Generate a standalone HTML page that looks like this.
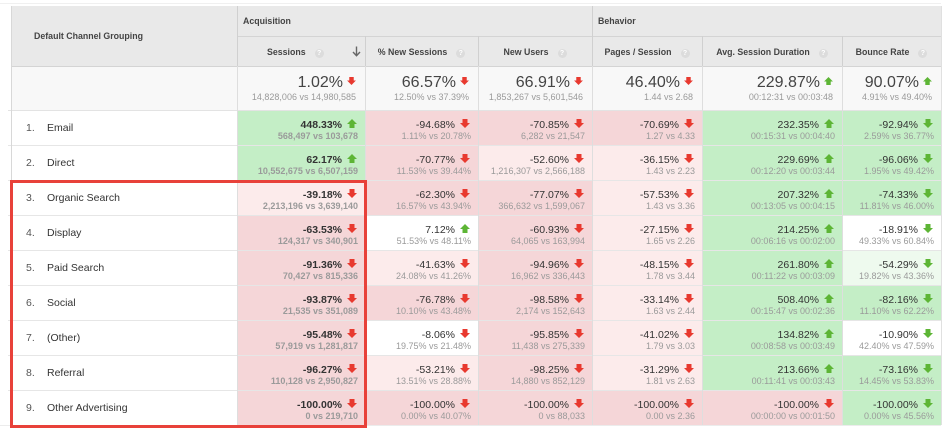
<!DOCTYPE html>
<html><head><meta charset="utf-8">
<style>
*{margin:0;padding:0;box-sizing:border-box}
html,body{width:952px;height:431px;background:#fff;overflow:hidden;font-family:"Liberation Sans",Arial,sans-serif}
.a{position:absolute}
.hd{background:#e9e9e9}
.hl{font-size:8.8px;font-weight:bold;color:#444;white-space:nowrap}
.q{display:inline-block;width:9px;height:9px;border-radius:50%;background:#dcdcdc;color:#fff;font-size:7px;line-height:9px;text-align:center;font-weight:bold;margin-left:9px;vertical-align:0px}
.cell{position:absolute;text-align:right;padding-right:7px;white-space:nowrap}
.m{font-size:10.5px;line-height:12px;color:#333;padding-top:8px}
.s{font-size:9px;line-height:10px;color:#9a9a9a}
.b .m{font-weight:bold}
.b .s{font-weight:bold}
.m svg{display:inline-block;width:10px;height:9px;margin-left:5px;margin-right:1px;vertical-align:0px}
.sum{position:absolute;text-align:right;padding-right:9px;white-space:nowrap}
.sm{font-size:16px;line-height:18px;color:#444;padding-top:8px}
.ss{font-size:9px;line-height:11px;color:#9a9a9a}
.sm svg{display:inline-block;width:9px;height:8px;margin-left:4px;vertical-align:2px}
.G{background:#c4eec6}
.P{background:#f5d6d8}
.L{background:#fcebeb}
.W{background:#fff}
.LG{background:#eefaee}
.lbl{position:absolute;left:11px;width:226px;height:35px;line-height:36px;font-size:10.5px;color:#333;padding-left:15px;white-space:nowrap}
.lbl span{display:inline-block;width:21px;color:#555}
.hline{position:absolute;height:1px;background:#e6e6e6}
.vline{position:absolute;width:1px;background:#dedede}
</style></head><body>

<!-- top light line -->
<div class="a" style="left:0;top:3px;width:941px;height:1px;background:#f0f0f0"></div>

<!-- header background -->
<div class="a hd" style="left:11px;top:6px;width:930px;height:60px"></div>
<div class="a" style="left:237px;top:36px;width:704px;height:1px;background:#d4d4d4"></div>
<div class="a" style="left:11px;top:66px;width:930px;height:1px;background:#d4d4d4"></div>
<!-- header verticals -->
<div class="a" style="left:237px;top:6px;width:1px;height:60px;background:#d0d0d0"></div>
<div class="a" style="left:592px;top:6px;width:1px;height:60px;background:#d0d0d0"></div>
<div class="a" style="left:365px;top:36px;width:1px;height:30px;background:#d0d0d0"></div>
<div class="a" style="left:478px;top:36px;width:1px;height:30px;background:#d0d0d0"></div>
<div class="a" style="left:702px;top:36px;width:1px;height:30px;background:#d0d0d0"></div>
<div class="a" style="left:842px;top:36px;width:1px;height:30px;background:#d0d0d0"></div>

<div class="a hl" style="left:34px;top:30px;line-height:12px">Default Channel Grouping</div>
<div class="a hl" style="left:243px;top:15px;line-height:12px">Acquisition</div>
<div class="a hl" style="left:598px;top:15px;line-height:12px">Behavior</div>

<div class="a hl" style="left:237px;top:46px;width:128px;line-height:12px;padding-left:30px">Sessions<span class="q">?</span></div>
<svg class="a" style="left:352px;top:46px" width="9" height="11" viewBox="0 0 9 11"><path d="M4.5 0.5V9.5M1 6L4.5 9.7L8 6" stroke="#666" stroke-width="1.4" fill="none"/></svg>
<div class="a hl" style="left:365px;top:46px;width:113px;line-height:12px;text-align:center">% New Sessions<span class="q">?</span></div>
<div class="a hl" style="left:478px;top:46px;width:114px;line-height:12px;text-align:center">New Users<span class="q">?</span></div>
<div class="a hl" style="left:592px;top:46px;width:110px;line-height:12px;text-align:center">Pages / Session<span class="q">?</span></div>
<div class="a hl" style="left:702px;top:46px;width:140px;line-height:12px;text-align:center">Avg. Session Duration<span class="q">?</span></div>
<div class="a hl" style="left:842px;top:46px;width:99px;line-height:12px;text-align:center">Bounce Rate<span class="q">?</span></div>

<!-- summary row -->
<div class="a" style="left:11px;top:67px;width:930px;height:43px;background:#f8f8f8"></div>
<div class="sum" style="left:237px;top:66px;width:128px"><div class="sm">1.02%<svg viewBox="0 0 10 9"><path d="M2.5 0H7.5V4H10L5 9L0 4H2.5Z" fill="#e8392f"/></svg></div><div class="ss">14,828,006 vs 14,980,585</div></div>
<div class="sum" style="left:365px;top:66px;width:113px"><div class="sm">66.57%<svg viewBox="0 0 10 9"><path d="M2.5 0H7.5V4H10L5 9L0 4H2.5Z" fill="#e8392f"/></svg></div><div class="ss">12.50% vs 37.39%</div></div>
<div class="sum" style="left:478px;top:66px;width:114px"><div class="sm">66.91%<svg viewBox="0 0 10 9"><path d="M2.5 0H7.5V4H10L5 9L0 4H2.5Z" fill="#e8392f"/></svg></div><div class="ss">1,853,267 vs 5,601,546</div></div>
<div class="sum" style="left:592px;top:66px;width:110px"><div class="sm">46.40%<svg viewBox="0 0 10 9"><path d="M2.5 0H7.5V4H10L5 9L0 4H2.5Z" fill="#e8392f"/></svg></div><div class="ss">1.44 vs 2.68</div></div>
<div class="sum" style="left:702px;top:66px;width:140px"><div class="sm">229.87%<svg viewBox="0 0 10 9"><path d="M2.5 9H7.5V5H10L5 0L0 5H2.5Z" fill="#5db535"/></svg></div><div class="ss">00:12:31 vs 00:03:48</div></div>
<div class="sum" style="left:842px;top:66px;width:99px"><div class="sm">90.07%<svg viewBox="0 0 10 9"><path d="M2.5 9H7.5V5H10L5 0L0 5H2.5Z" fill="#5db535"/></svg></div><div class="ss">4.91% vs 49.40%</div></div>
<div class="a" style="left:8px;top:110px;width:933px;height:1px;background:#e3e3e3"></div>

<!-- Row 1 -->
<div class="lbl" style="top:110px"><span>1.</span>Email</div>
<div class="cell b G" style="left:237px;top:111px;width:128px;height:34px"><div class="m">448.33%<svg viewBox="0 0 10 9"><path d="M2.5 9H7.5V5H10L5 0L0 5H2.5Z" fill="#5db535"/></svg></div><div class="s">568,497 vs 103,678</div></div>
<div class="cell P" style="left:365px;top:111px;width:113px;height:34px"><div class="m">-94.68%<svg viewBox="0 0 10 9"><path d="M2.5 0H7.5V4H10L5 9L0 4H2.5Z" fill="#e8392f"/></svg></div><div class="s">1.11% vs 20.78%</div></div>
<div class="cell P" style="left:478px;top:111px;width:114px;height:34px"><div class="m">-70.85%<svg viewBox="0 0 10 9"><path d="M2.5 0H7.5V4H10L5 9L0 4H2.5Z" fill="#e8392f"/></svg></div><div class="s">6,282 vs 21,547</div></div>
<div class="cell P" style="left:592px;top:111px;width:110px;height:34px"><div class="m">-70.69%<svg viewBox="0 0 10 9"><path d="M2.5 0H7.5V4H10L5 9L0 4H2.5Z" fill="#e8392f"/></svg></div><div class="s">1.27 vs 4.33</div></div>
<div class="cell G" style="left:702px;top:111px;width:140px;height:34px"><div class="m">232.35%<svg viewBox="0 0 10 9"><path d="M2.5 9H7.5V5H10L5 0L0 5H2.5Z" fill="#5db535"/></svg></div><div class="s">00:15:31 vs 00:04:40</div></div>
<div class="cell G" style="left:842px;top:111px;width:99px;height:34px"><div class="m">-92.94%<svg viewBox="0 0 10 9"><path d="M2.5 0H7.5V4H10L5 9L0 4H2.5Z" fill="#5db535"/></svg></div><div class="s">2.59% vs 36.77%</div></div>

<!-- Row 2 -->
<div class="lbl" style="top:145px"><span>2.</span>Direct</div>
<div class="cell b G" style="left:237px;top:146px;width:128px;height:34px"><div class="m">62.17%<svg viewBox="0 0 10 9"><path d="M2.5 9H7.5V5H10L5 0L0 5H2.5Z" fill="#5db535"/></svg></div><div class="s">10,552,675 vs 6,507,159</div></div>
<div class="cell P" style="left:365px;top:146px;width:113px;height:34px"><div class="m">-70.77%<svg viewBox="0 0 10 9"><path d="M2.5 0H7.5V4H10L5 9L0 4H2.5Z" fill="#e8392f"/></svg></div><div class="s">11.53% vs 39.44%</div></div>
<div class="cell L" style="left:478px;top:146px;width:114px;height:34px"><div class="m">-52.60%<svg viewBox="0 0 10 9"><path d="M2.5 0H7.5V4H10L5 9L0 4H2.5Z" fill="#e8392f"/></svg></div><div class="s">1,216,307 vs 2,566,188</div></div>
<div class="cell L" style="left:592px;top:146px;width:110px;height:34px"><div class="m">-36.15%<svg viewBox="0 0 10 9"><path d="M2.5 0H7.5V4H10L5 9L0 4H2.5Z" fill="#e8392f"/></svg></div><div class="s">1.43 vs 2.23</div></div>
<div class="cell G" style="left:702px;top:146px;width:140px;height:34px"><div class="m">229.69%<svg viewBox="0 0 10 9"><path d="M2.5 9H7.5V5H10L5 0L0 5H2.5Z" fill="#5db535"/></svg></div><div class="s">00:12:20 vs 00:03:44</div></div>
<div class="cell G" style="left:842px;top:146px;width:99px;height:34px"><div class="m">-96.06%<svg viewBox="0 0 10 9"><path d="M2.5 0H7.5V4H10L5 9L0 4H2.5Z" fill="#5db535"/></svg></div><div class="s">1.95% vs 49.42%</div></div>

<!-- Row 3 -->
<div class="lbl" style="top:180px"><span>3.</span>Organic Search</div>
<div class="cell b L" style="left:237px;top:181px;width:128px;height:34px"><div class="m">-39.18%<svg viewBox="0 0 10 9"><path d="M2.5 0H7.5V4H10L5 9L0 4H2.5Z" fill="#e8392f"/></svg></div><div class="s">2,213,196 vs 3,639,140</div></div>
<div class="cell P" style="left:365px;top:181px;width:113px;height:34px"><div class="m">-62.30%<svg viewBox="0 0 10 9"><path d="M2.5 0H7.5V4H10L5 9L0 4H2.5Z" fill="#e8392f"/></svg></div><div class="s">16.57% vs 43.94%</div></div>
<div class="cell P" style="left:478px;top:181px;width:114px;height:34px"><div class="m">-77.07%<svg viewBox="0 0 10 9"><path d="M2.5 0H7.5V4H10L5 9L0 4H2.5Z" fill="#e8392f"/></svg></div><div class="s">366,632 vs 1,599,067</div></div>
<div class="cell L" style="left:592px;top:181px;width:110px;height:34px"><div class="m">-57.53%<svg viewBox="0 0 10 9"><path d="M2.5 0H7.5V4H10L5 9L0 4H2.5Z" fill="#e8392f"/></svg></div><div class="s">1.43 vs 3.36</div></div>
<div class="cell G" style="left:702px;top:181px;width:140px;height:34px"><div class="m">207.32%<svg viewBox="0 0 10 9"><path d="M2.5 9H7.5V5H10L5 0L0 5H2.5Z" fill="#5db535"/></svg></div><div class="s">00:13:05 vs 00:04:15</div></div>
<div class="cell G" style="left:842px;top:181px;width:99px;height:34px"><div class="m">-74.33%<svg viewBox="0 0 10 9"><path d="M2.5 0H7.5V4H10L5 9L0 4H2.5Z" fill="#5db535"/></svg></div><div class="s">11.81% vs 46.00%</div></div>

<!-- Row 4 -->
<div class="lbl" style="top:215px"><span>4.</span>Display</div>
<div class="cell b P" style="left:237px;top:216px;width:128px;height:34px"><div class="m">-63.53%<svg viewBox="0 0 10 9"><path d="M2.5 0H7.5V4H10L5 9L0 4H2.5Z" fill="#e8392f"/></svg></div><div class="s">124,317 vs 340,901</div></div>
<div class="cell W" style="left:365px;top:216px;width:113px;height:34px"><div class="m">7.12%<svg viewBox="0 0 10 9"><path d="M2.5 9H7.5V5H10L5 0L0 5H2.5Z" fill="#5db535"/></svg></div><div class="s">51.53% vs 48.11%</div></div>
<div class="cell P" style="left:478px;top:216px;width:114px;height:34px"><div class="m">-60.93%<svg viewBox="0 0 10 9"><path d="M2.5 0H7.5V4H10L5 9L0 4H2.5Z" fill="#e8392f"/></svg></div><div class="s">64,065 vs 163,994</div></div>
<div class="cell L" style="left:592px;top:216px;width:110px;height:34px"><div class="m">-27.15%<svg viewBox="0 0 10 9"><path d="M2.5 0H7.5V4H10L5 9L0 4H2.5Z" fill="#e8392f"/></svg></div><div class="s">1.65 vs 2.26</div></div>
<div class="cell G" style="left:702px;top:216px;width:140px;height:34px"><div class="m">214.25%<svg viewBox="0 0 10 9"><path d="M2.5 9H7.5V5H10L5 0L0 5H2.5Z" fill="#5db535"/></svg></div><div class="s">00:06:16 vs 00:02:00</div></div>
<div class="cell W" style="left:842px;top:216px;width:99px;height:34px"><div class="m">-18.91%<svg viewBox="0 0 10 9"><path d="M2.5 0H7.5V4H10L5 9L0 4H2.5Z" fill="#5db535"/></svg></div><div class="s">49.33% vs 60.84%</div></div>

<!-- Row 5 -->
<div class="lbl" style="top:250px"><span>5.</span>Paid Search</div>
<div class="cell b P" style="left:237px;top:251px;width:128px;height:34px"><div class="m">-91.36%<svg viewBox="0 0 10 9"><path d="M2.5 0H7.5V4H10L5 9L0 4H2.5Z" fill="#e8392f"/></svg></div><div class="s">70,427 vs 815,336</div></div>
<div class="cell L" style="left:365px;top:251px;width:113px;height:34px"><div class="m">-41.63%<svg viewBox="0 0 10 9"><path d="M2.5 0H7.5V4H10L5 9L0 4H2.5Z" fill="#e8392f"/></svg></div><div class="s">24.08% vs 41.26%</div></div>
<div class="cell P" style="left:478px;top:251px;width:114px;height:34px"><div class="m">-94.96%<svg viewBox="0 0 10 9"><path d="M2.5 0H7.5V4H10L5 9L0 4H2.5Z" fill="#e8392f"/></svg></div><div class="s">16,962 vs 336,443</div></div>
<div class="cell L" style="left:592px;top:251px;width:110px;height:34px"><div class="m">-48.15%<svg viewBox="0 0 10 9"><path d="M2.5 0H7.5V4H10L5 9L0 4H2.5Z" fill="#e8392f"/></svg></div><div class="s">1.78 vs 3.44</div></div>
<div class="cell G" style="left:702px;top:251px;width:140px;height:34px"><div class="m">261.80%<svg viewBox="0 0 10 9"><path d="M2.5 9H7.5V5H10L5 0L0 5H2.5Z" fill="#5db535"/></svg></div><div class="s">00:11:22 vs 00:03:09</div></div>
<div class="cell LG" style="left:842px;top:251px;width:99px;height:34px"><div class="m">-54.29%<svg viewBox="0 0 10 9"><path d="M2.5 0H7.5V4H10L5 9L0 4H2.5Z" fill="#5db535"/></svg></div><div class="s">19.82% vs 43.36%</div></div>

<!-- Row 6 -->
<div class="lbl" style="top:285px"><span>6.</span>Social</div>
<div class="cell b P" style="left:237px;top:286px;width:128px;height:34px"><div class="m">-93.87%<svg viewBox="0 0 10 9"><path d="M2.5 0H7.5V4H10L5 9L0 4H2.5Z" fill="#e8392f"/></svg></div><div class="s">21,535 vs 351,089</div></div>
<div class="cell P" style="left:365px;top:286px;width:113px;height:34px"><div class="m">-76.78%<svg viewBox="0 0 10 9"><path d="M2.5 0H7.5V4H10L5 9L0 4H2.5Z" fill="#e8392f"/></svg></div><div class="s">10.10% vs 43.48%</div></div>
<div class="cell P" style="left:478px;top:286px;width:114px;height:34px"><div class="m">-98.58%<svg viewBox="0 0 10 9"><path d="M2.5 0H7.5V4H10L5 9L0 4H2.5Z" fill="#e8392f"/></svg></div><div class="s">2,174 vs 152,643</div></div>
<div class="cell L" style="left:592px;top:286px;width:110px;height:34px"><div class="m">-33.14%<svg viewBox="0 0 10 9"><path d="M2.5 0H7.5V4H10L5 9L0 4H2.5Z" fill="#e8392f"/></svg></div><div class="s">1.63 vs 2.44</div></div>
<div class="cell G" style="left:702px;top:286px;width:140px;height:34px"><div class="m">508.40%<svg viewBox="0 0 10 9"><path d="M2.5 9H7.5V5H10L5 0L0 5H2.5Z" fill="#5db535"/></svg></div><div class="s">00:15:47 vs 00:02:36</div></div>
<div class="cell G" style="left:842px;top:286px;width:99px;height:34px"><div class="m">-82.16%<svg viewBox="0 0 10 9"><path d="M2.5 0H7.5V4H10L5 9L0 4H2.5Z" fill="#5db535"/></svg></div><div class="s">11.10% vs 62.22%</div></div>

<!-- Row 7 -->
<div class="lbl" style="top:320px"><span>7.</span>(Other)</div>
<div class="cell b P" style="left:237px;top:321px;width:128px;height:34px"><div class="m">-95.48%<svg viewBox="0 0 10 9"><path d="M2.5 0H7.5V4H10L5 9L0 4H2.5Z" fill="#e8392f"/></svg></div><div class="s">57,919 vs 1,281,817</div></div>
<div class="cell W" style="left:365px;top:321px;width:113px;height:34px"><div class="m">-8.06%<svg viewBox="0 0 10 9"><path d="M2.5 0H7.5V4H10L5 9L0 4H2.5Z" fill="#e8392f"/></svg></div><div class="s">19.75% vs 21.48%</div></div>
<div class="cell P" style="left:478px;top:321px;width:114px;height:34px"><div class="m">-95.85%<svg viewBox="0 0 10 9"><path d="M2.5 0H7.5V4H10L5 9L0 4H2.5Z" fill="#e8392f"/></svg></div><div class="s">11,438 vs 275,339</div></div>
<div class="cell L" style="left:592px;top:321px;width:110px;height:34px"><div class="m">-41.02%<svg viewBox="0 0 10 9"><path d="M2.5 0H7.5V4H10L5 9L0 4H2.5Z" fill="#e8392f"/></svg></div><div class="s">1.79 vs 3.03</div></div>
<div class="cell G" style="left:702px;top:321px;width:140px;height:34px"><div class="m">134.82%<svg viewBox="0 0 10 9"><path d="M2.5 9H7.5V5H10L5 0L0 5H2.5Z" fill="#5db535"/></svg></div><div class="s">00:08:58 vs 00:03:49</div></div>
<div class="cell W" style="left:842px;top:321px;width:99px;height:34px"><div class="m">-10.90%<svg viewBox="0 0 10 9"><path d="M2.5 0H7.5V4H10L5 9L0 4H2.5Z" fill="#5db535"/></svg></div><div class="s">42.40% vs 47.59%</div></div>

<!-- Row 8 -->
<div class="lbl" style="top:355px"><span>8.</span>Referral</div>
<div class="cell b P" style="left:237px;top:356px;width:128px;height:34px"><div class="m">-96.27%<svg viewBox="0 0 10 9"><path d="M2.5 0H7.5V4H10L5 9L0 4H2.5Z" fill="#e8392f"/></svg></div><div class="s">110,128 vs 2,950,827</div></div>
<div class="cell L" style="left:365px;top:356px;width:113px;height:34px"><div class="m">-53.21%<svg viewBox="0 0 10 9"><path d="M2.5 0H7.5V4H10L5 9L0 4H2.5Z" fill="#e8392f"/></svg></div><div class="s">13.51% vs 28.88%</div></div>
<div class="cell P" style="left:478px;top:356px;width:114px;height:34px"><div class="m">-98.25%<svg viewBox="0 0 10 9"><path d="M2.5 0H7.5V4H10L5 9L0 4H2.5Z" fill="#e8392f"/></svg></div><div class="s">14,880 vs 852,129</div></div>
<div class="cell L" style="left:592px;top:356px;width:110px;height:34px"><div class="m">-31.29%<svg viewBox="0 0 10 9"><path d="M2.5 0H7.5V4H10L5 9L0 4H2.5Z" fill="#e8392f"/></svg></div><div class="s">1.81 vs 2.63</div></div>
<div class="cell G" style="left:702px;top:356px;width:140px;height:34px"><div class="m">213.66%<svg viewBox="0 0 10 9"><path d="M2.5 9H7.5V5H10L5 0L0 5H2.5Z" fill="#5db535"/></svg></div><div class="s">00:11:41 vs 00:03:43</div></div>
<div class="cell G" style="left:842px;top:356px;width:99px;height:34px"><div class="m">-73.16%<svg viewBox="0 0 10 9"><path d="M2.5 0H7.5V4H10L5 9L0 4H2.5Z" fill="#5db535"/></svg></div><div class="s">14.45% vs 53.83%</div></div>

<!-- Row 9 -->
<div class="lbl" style="top:390px"><span>9.</span>Other Advertising</div>
<div class="cell b P" style="left:237px;top:391px;width:128px;height:34px"><div class="m">-100.00%<svg viewBox="0 0 10 9"><path d="M2.5 0H7.5V4H10L5 9L0 4H2.5Z" fill="#e8392f"/></svg></div><div class="s">0 vs 219,710</div></div>
<div class="cell P" style="left:365px;top:391px;width:113px;height:34px"><div class="m">-100.00%<svg viewBox="0 0 10 9"><path d="M2.5 0H7.5V4H10L5 9L0 4H2.5Z" fill="#e8392f"/></svg></div><div class="s">0.00% vs 40.07%</div></div>
<div class="cell P" style="left:478px;top:391px;width:114px;height:34px"><div class="m">-100.00%<svg viewBox="0 0 10 9"><path d="M2.5 0H7.5V4H10L5 9L0 4H2.5Z" fill="#e8392f"/></svg></div><div class="s">0 vs 88,033</div></div>
<div class="cell P" style="left:592px;top:391px;width:110px;height:34px"><div class="m">-100.00%<svg viewBox="0 0 10 9"><path d="M2.5 0H7.5V4H10L5 9L0 4H2.5Z" fill="#e8392f"/></svg></div><div class="s">0.00 vs 2.36</div></div>
<div class="cell P" style="left:702px;top:391px;width:140px;height:34px"><div class="m">-100.00%<svg viewBox="0 0 10 9"><path d="M2.5 0H7.5V4H10L5 9L0 4H2.5Z" fill="#e8392f"/></svg></div><div class="s">00:00:00 vs 00:01:50</div></div>
<div class="cell G" style="left:842px;top:391px;width:99px;height:34px"><div class="m">-100.00%<svg viewBox="0 0 10 9"><path d="M2.5 0H7.5V4H10L5 9L0 4H2.5Z" fill="#5db535"/></svg></div><div class="s">0.00% vs 45.56%</div></div>

<!-- row separators -->
<div class="hline" style="left:8px;top:145px;width:933px"></div>
<div class="hline" style="left:8px;top:180px;width:933px"></div>
<div class="hline" style="left:8px;top:215px;width:933px"></div>
<div class="hline" style="left:8px;top:250px;width:933px"></div>
<div class="hline" style="left:8px;top:285px;width:933px"></div>
<div class="hline" style="left:8px;top:320px;width:933px"></div>
<div class="hline" style="left:8px;top:355px;width:933px"></div>
<div class="hline" style="left:8px;top:390px;width:933px"></div>
<div class="hline" style="left:0px;top:425px;width:941px;background:#ececec"></div>

<!-- vertical lines body -->
<div class="vline" style="left:11px;top:6px;height:419px;background:#d8d8d8"></div>
<div class="vline" style="left:237px;top:66px;height:359px"></div>
<div class="vline" style="left:365px;top:66px;height:359px"></div>
<div class="vline" style="left:478px;top:66px;height:359px"></div>
<div class="vline" style="left:592px;top:66px;height:359px"></div>
<div class="vline" style="left:702px;top:66px;height:359px"></div>
<div class="vline" style="left:842px;top:66px;height:359px"></div>
<div class="vline" style="left:941px;top:6px;height:419px;background:#e0e0e0"></div>

<!-- red highlight box -->
<div class="a" style="left:10px;top:180px;width:357px;height:248px;border:3px solid #e8413a"></div>

</body></html>
